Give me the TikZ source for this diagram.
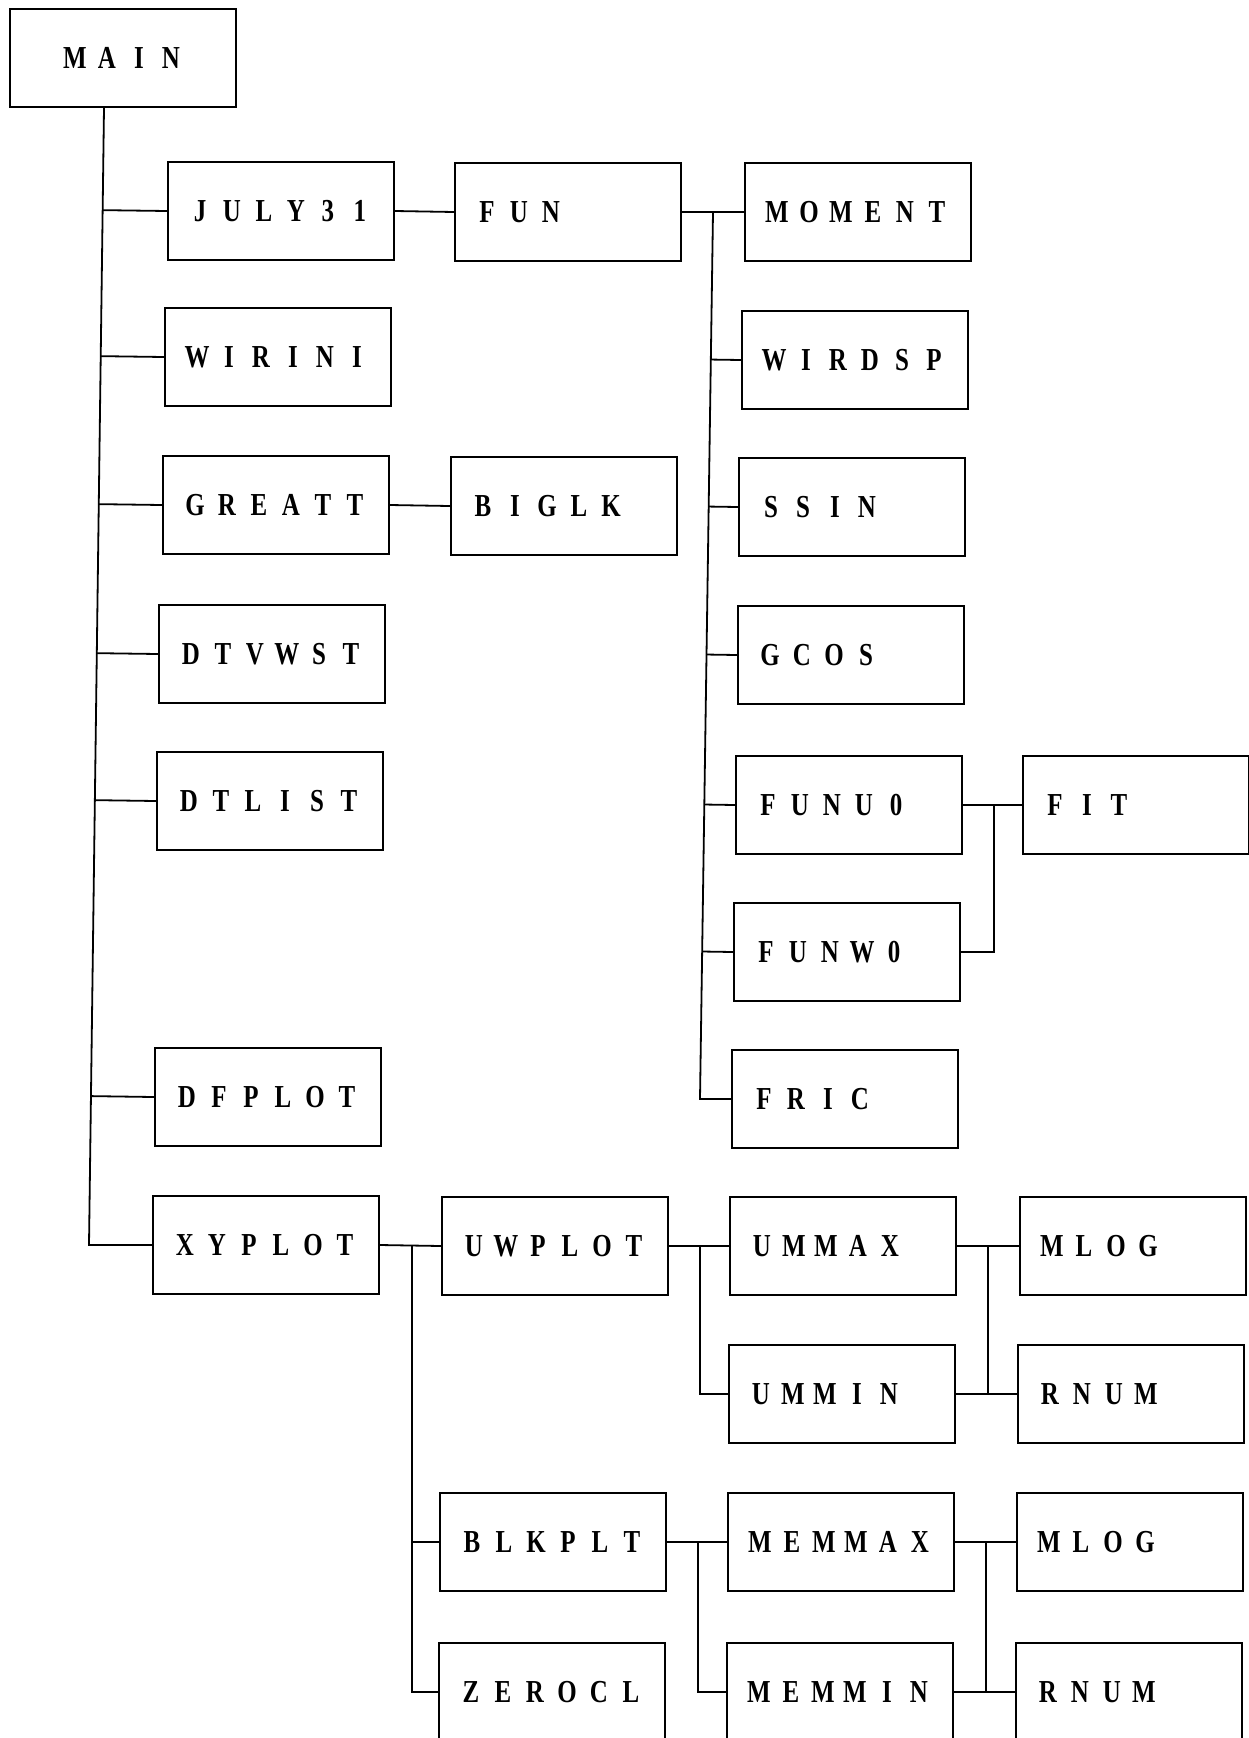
\documentclass[tikz,border=0pt]{standalone}
\usepackage{fontspec}
\usetikzlibrary{calc}
\newfontfamily\boxfont[FakeStretch=0.78]{Liberation Serif}
\newcommand\lspc[1]{\lspcx#1\relax}
\def\lspcx#1{\ifx\relax#1\else\makebox[32pt][c]{#1}\expandafter\lspcx\fi}
\begin{document}
\begin{tikzpicture}[x=1pt,y=-1pt,
  blk/.style={draw, line width=2pt, anchor=north west, minimum height=98pt,
    text width=194pt, inner xsep=16pt, inner ysep=0pt, align=left,
    font=\boxfont\bfseries\fontsize{32}{38}\selectfont},
  wire/.style={line width=1.8pt}]
\useasboundingbox (0,0) rectangle (1249,1738);
% boxes
\node[blk, align=center] (main) at (9,8) {\lspc{MAIN}};
\node[blk] (july)   at (167,161) {\lspc{JULY31}};
\node[blk] (wirini) at (164,307) {\lspc{WIRINI}};
\node[blk] (greatt) at (162,455) {\lspc{GREATT}};
\node[blk] (dtvwst) at (158,604) {\lspc{DTVWST}};
\node[blk] (dtlist) at (156,751) {\lspc{DTLIST}};
\node[blk] (dfplot) at (154,1047) {\lspc{DFPLOT}};
\node[blk] (xyplot) at (152,1195) {\lspc{XYPLOT}};
\node[blk] (fun)    at (454,162) {\lspc{FUN}};
\node[blk] (biglk)  at (450,456) {\lspc{BIGLK}};
\node[blk] (uwplot) at (441,1196) {\lspc{UWPLOT}};
\node[blk] (blkplt) at (439,1492) {\lspc{BLKPLT}};
\node[blk] (zerocl) at (438,1642) {\lspc{ZEROCL}};
\node[blk] (moment) at (744,162) {\lspc{MOMENT}};
\node[blk] (wirdsp) at (741,310) {\lspc{WIRDSP}};
\node[blk] (ssin)   at (738,457) {\lspc{SSIN}};
\node[blk] (gcos)   at (737,605) {\lspc{GCOS}};
\node[blk] (funu0)  at (735,755) {\lspc{FUNU0}};
\node[blk] (funw0)  at (733,902) {\lspc{FUNW0}};
\node[blk] (fric)   at (731,1049) {\lspc{FRIC}};
\node[blk] (ummax)  at (729,1196) {\lspc{UMMAX}};
\node[blk] (ummin)  at (728,1344) {\lspc{UMMIN}};
\node[blk] (memmax) at (727,1492) {\lspc{MEMMAX}};
\node[blk] (memmin) at (726,1642) {\lspc{MEMMIN}};
\node[blk] (fit)    at (1022,755) {\lspc{FIT}};
\node[blk] (mlogA)  at (1019,1196) {\lspc{MLOG}};
\node[blk] (rnumA)  at (1017,1344) {\lspc{RNUM}};
\node[blk] (mlogB)  at (1016,1492) {\lspc{MLOG}};
\node[blk] (rnumB)  at (1015,1642) {\lspc{RNUM}};
% main trunk
\coordinate (t0) at ($(main.south west)+(95,0)$);
\coordinate (t1) at ($(xyplot.west)+(-63,0)$);
\draw[wire] (t0) -- (t1) -- (xyplot.west);
\foreach \n in {july,wirini,greatt,dtvwst,dtlist,dfplot}
  \draw[wire] ($(t0)!(\n.west)!(t1)$) -- (\n.west);
% JULY31 -> FUN, GREATT -> BIGLK
\draw[wire] (july.east) -- (fun.west);
\draw[wire] (greatt.east) -- (biglk.west);
% FUN bus
\draw[wire] (fun.east) -- (moment.west);
\coordinate (f0) at ($(fun.east)+(31,0)$);
\coordinate (f1) at ($(fric.west)+(-31,0)$);
\draw[wire] (f0) -- (f1) -- (fric.west);
\foreach \n in {wirdsp,ssin,gcos,funu0,funw0}
  \draw[wire] ($(f0)!(\n.west)!(f1)$) -- (\n.west);
% FIT
\draw[wire] (funu0.east) -- (fit.west);
\coordinate (g0) at ($(funu0.east)+(31,0)$);
\draw[wire] (g0) |- (funw0.east);
% XYPLOT bus
\draw[wire] (xyplot.east) -- (uwplot.west);
\coordinate (x0) at ($(xyplot.east)+(32,0)$);
\draw[wire] (x0) |- (zerocl.west);
\draw[wire] (x0 |- blkplt.west) -- (blkplt.west);
% UWPLOT bus
\draw[wire] (uwplot.east) -- (ummax.west);
\coordinate (u0) at ($(uwplot.east)+(31,0)$);
\draw[wire] (u0) |- (ummin.west);
% UMMAX bus
\draw[wire] (ummax.east) -- (mlogA.west);
\draw[wire] (ummin.east) -- (rnumA.west);
\coordinate (u1) at ($(ummax.east)+(31,0)$);
\draw[wire] (u1) -- (u1 |- ummin.east);
% BLKPLT bus
\draw[wire] (blkplt.east) -- (memmax.west);
\coordinate (b0) at ($(blkplt.east)+(31,0)$);
\draw[wire] (b0) |- (memmin.west);
% MEMMAX bus
\draw[wire] (memmax.east) -- (mlogB.west);
\draw[wire] (memmin.east) -- (rnumB.west);
\coordinate (m1) at ($(memmax.east)+(31,0)$);
\draw[wire] (m1) -- (m1 |- memmin.east);
\end{tikzpicture}
\end{document}
